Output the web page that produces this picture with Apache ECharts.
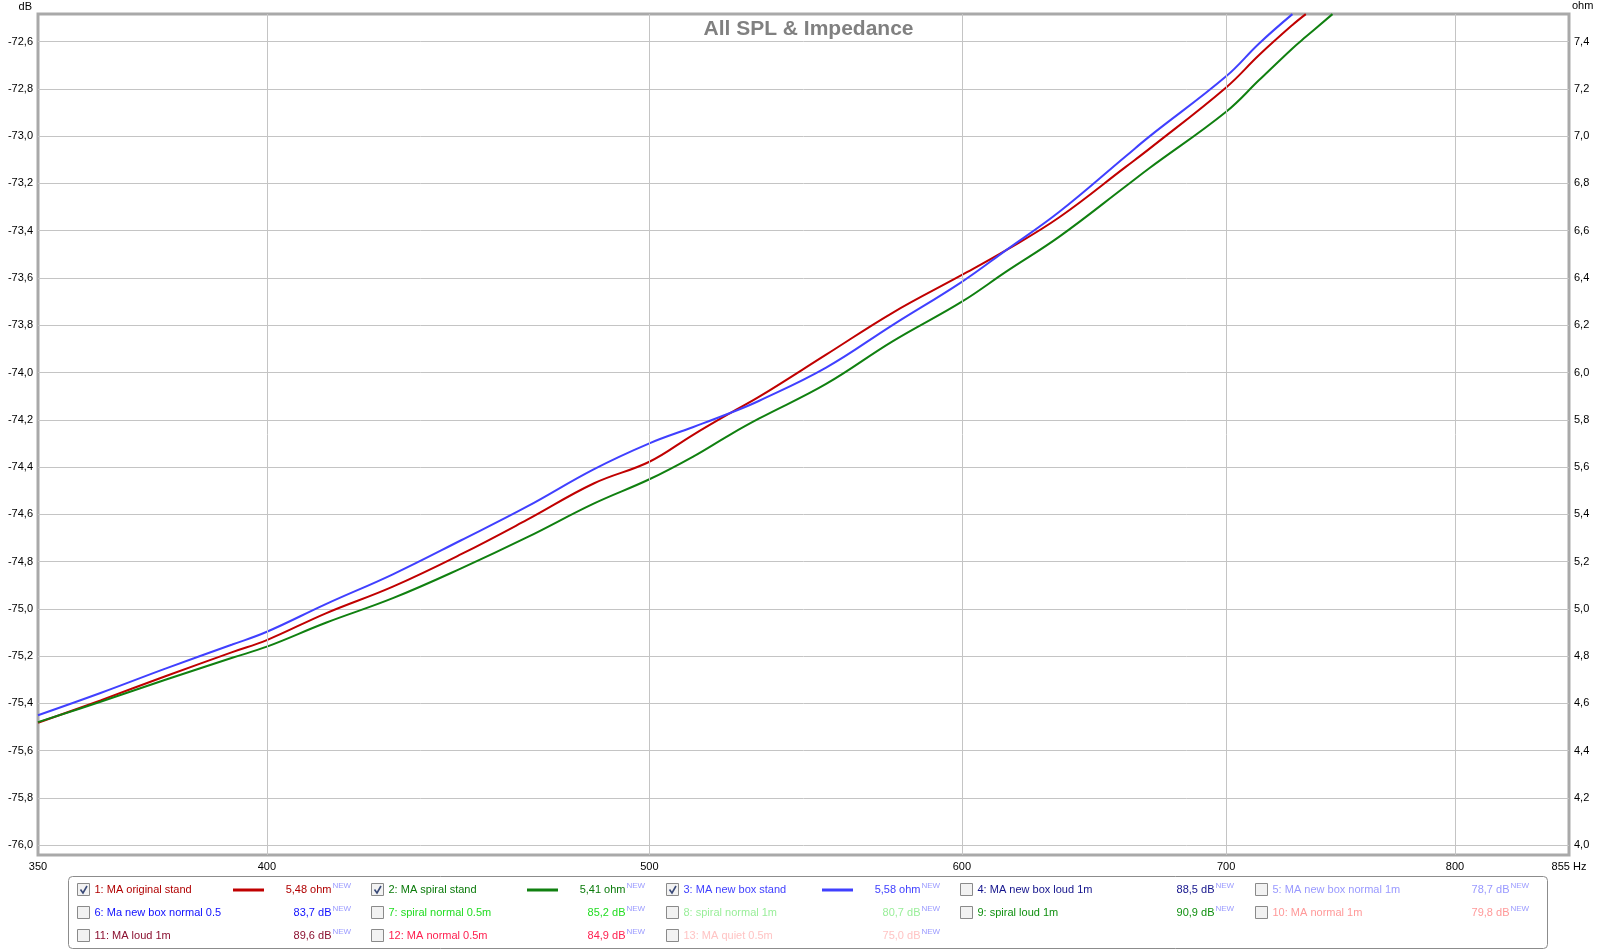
<!DOCTYPE html>
<html><head><meta charset="utf-8">
<script src="https://cdn.jsdelivr.net/npm/echarts@6/dist/echarts.min.js"></script>
<style>html,body{margin:0;padding:0;background:#fff}#c{width:1617px;height:950px}</style>
</head><body><div id="c"></div>
<script>
// ---- data ----
const freqs = [350, 363, 377, 392, 400, 414, 430.5, 448, 465.5, 484, 500, 512.8, 523.9, 533.1, 554.3, 576.2, 600, 615.7, 635.1, 660.3, 669.3, 700, 713.6, 727.6, 733.3, 744.8];
const ohmOriginalStand = [4.518, 4.613, 4.715, 4.817, 4.868, 4.981, 5.094, 5.231, 5.376, 5.530, 5.622, 5.735, 5.826, 5.897, 6.075, 6.252, 6.412, 6.517, 6.656, 6.870, 6.945, 7.205, 7.342, 7.469, 7.515, null];
const ohmSpiralStand   = [4.521, 4.607, 4.700, 4.793, 4.840, 4.941, 5.045, 5.171, 5.302, 5.445, 5.548, 5.643, 5.735, 5.805, 5.951, 6.131, 6.299, 6.426, 6.574, 6.788, 6.863, 7.102, 7.236, 7.370, 7.419, 7.515];
const ohmNewBoxStand   = [4.550, 4.644, 4.747, 4.849, 4.903, 5.020, 5.146, 5.290, 5.432, 5.590, 5.700, 5.768, 5.827, 5.880, 6.020, 6.200, 6.383, 6.517, 6.679, 6.915, 6.997, 7.252, 7.391, 7.515, null, null];
const xTickValues = [350, 400, 500, 600, 700, 800, 855];
const legendNames = ['1: MA original stand', '2: MA spiral stand', '3: MA new box stand', '4: MA new box loud 1m', '5: MA new box normal 1m',
  '6: Ma new box normal 0.5', '7: spiral normal 0.5m', '8: spiral normal 1m', '9: spiral loud 1m', '10: MA normal 1m',
  '11: MA loud 1m', '12: MA normal 0.5m', '13: MA quiet 0.5m'];
const legendValues = ['5,48 ohm', '5,41 ohm', '5,58 ohm', '88,5 dB', '78,7 dB', '83,7 dB', '85,2 dB', '80,7 dB', '90,9 dB', '79,8 dB', '89,6 dB', '84,9 dB', '75,0 dB'];
const legendChecked = [true, true, true, false, false, false, false, false, false, false, false, false, false];
const legendColors = ['#b00000', '#0a7a0a', '#4040ff', '#14148c', '#9999ff', '#1010ff', '#22dd22', '#99ee99', '#109010', '#ff9999', '#8b1030', '#ff2050', '#ffc4c4'];
const seriesColors = ['#c00000', '#108010', '#4040ff'];

// ---- build ----
const FONT = '"Liberation Sans", Arial, sans-serif';
const toPairs = (vals) => freqs.map((f, i) => [f, vals[i]]).filter(p => p[1] !== null);
const comma = (v) => v.toFixed(1).replace('.', ',');

const legendEls = [{
  type: 'rect', shape: {x: 68.5, y: 876.5, width: 1479, height: 72, r: 4},
  style: {fill: '#fff', stroke: '#8c8c8c', lineWidth: 1}
}];
legendNames.forEach((name, i) => {
  const col = i % 5, row = Math.floor(i / 5);
  const x0 = Math.round(77 + 294.4 * col), yc = 890 + 23 * row;
  legendEls.push({type: 'rect', shape: {x: x0 + 0.5, y: yc - 6.5, width: 12, height: 12},
    style: {fill: '#f2f2f2', stroke: '#8a8a8a', lineWidth: 1}});
  if (legendChecked[i]) {
    legendEls.push({type: 'polyline', shape: {points: [[x0 + 3.5, yc - 0.5], [x0 + 6, yc + 3], [x0 + 10, yc - 4]]},
      style: {fill: null, stroke: '#3a4a78', lineWidth: 1.6}});
    legendEls.push({type: 'line', shape: {x1: x0 + 156, y1: yc, x2: x0 + 187, y2: yc},
      style: {stroke: seriesColors[i], lineWidth: 3}});
  }
  legendEls.push({type: 'text', style: {x: x0 + 17.5, y: yc, text: name, fill: legendColors[i],
    font: '11px ' + FONT, textAlign: 'left', textVerticalAlign: 'middle', verticalAlign: 'middle'}});
  legendEls.push({type: 'text', style: {x: x0 + 254.5, y: yc, text: legendValues[i], fill: legendColors[i],
    font: '11px ' + FONT, textAlign: 'right', textVerticalAlign: 'middle', verticalAlign: 'middle'}});
  legendEls.push({type: 'text', style: {x: x0 + 255.5, y: yc - 4.5, text: 'NEW', fill: '#9a9aff',
    font: '8px ' + FONT, textAlign: 'left', textVerticalAlign: 'middle', verticalAlign: 'middle'}});
});

const lineSeries = (name, vals, color) => ({
  name, type: 'line', xAxisIndex: 0, yAxisIndex: 0, data: toPairs(vals),
  showSymbol: false, symbol: 'none', smooth: 0.4, z: 3, silent: true,
  lineStyle: {color, width: 2}
});

const chart = echarts.init(document.getElementById('c'), null, {renderer: 'canvas'});
chart.setOption({
  animation: false,
  backgroundColor: '#fff',
  title: {text: 'All SPL & Impedance', left: 'center', top: 14,
    textStyle: {fontFamily: FONT, fontSize: 21, fontWeight: 'bold', color: '#808080'}},
  grid: [
    {left: 38, right: 48, top: 14, bottom: 95, show: true, borderColor: '#a9a9a9', borderWidth: 3, backgroundColor: 'transparent'},
    {left: 38, right: 48, top: 41.3, bottom: 104.7}
  ],
  xAxis: [
    {type: 'log', logBase: 10, gridIndex: 0, min: 350, max: 855, axisLine: {show: false}, axisTick: {show: false},
      axisLabel: {show: false}, splitLine: {show: false}},
    {type: 'log', logBase: 10, gridIndex: 1, min: 350, max: 855, show: false}
  ],
  yAxis: [
    {type: 'value', gridIndex: 0, min: 3.959, max: 7.5155, show: false},
    {type: 'value', gridIndex: 1, position: 'left', min: -76, max: -72.6, interval: 0.2,
      name: 'dB', nameLocation: 'end', nameGap: 35,
      nameTextStyle: {fontFamily: FONT, fontSize: 11, color: '#000', align: 'right', verticalAlign: 'middle', padding: [0, 6, 0, 0]},
      axisLine: {show: false}, axisTick: {show: false},
      axisLabel: {formatter: comma, margin: 5, fontFamily: FONT, fontSize: 11, color: '#000'},
      splitLine: {show: true, lineStyle: {color: '#c4c4c4', width: 1}}},
    {type: 'value', gridIndex: 1, position: 'right', min: 4.0, max: 7.4, interval: 0.2,
      name: 'ohm', nameLocation: 'end', nameGap: 36,
      nameTextStyle: {fontFamily: FONT, fontSize: 11, color: '#000', align: 'left', verticalAlign: 'middle', padding: [0, 0, 0, 3]},
      axisLine: {show: false}, axisTick: {show: false},
      axisLabel: {formatter: comma, margin: 5, fontFamily: FONT, fontSize: 11, color: '#000'},
      splitLine: {show: false}}
  ],
  series: [
    {type: 'line', xAxisIndex: 0, yAxisIndex: 0, data: [], z: 1, silent: true,
      markLine: {silent: true, symbol: ['none', 'none'], animation: false,
        lineStyle: {color: '#c4c4c4', width: 1, type: 'solid'},
        label: {show: true, position: 'start', distance: 6, fontFamily: FONT, fontSize: 11, color: '#000',
          formatter: (p) => p.value === 855 ? '855 Hz' : String(p.value)},
        emphasis: {disabled: true},
        data: xTickValues.map(v => (v === 350 || v === 855)
          ? {xAxis: v, lineStyle: {color: 'rgba(0,0,0,0)'}}
          : {xAxis: v})}},
    lineSeries('1: MA original stand', ohmOriginalStand, seriesColors[0]),
    lineSeries('2: MA spiral stand', ohmSpiralStand, seriesColors[1]),
    lineSeries('3: MA new box stand', ohmNewBoxStand, seriesColors[2])
  ],
  graphic: [{type: 'group', silent: true, children: legendEls}]
});
</script></body></html>
